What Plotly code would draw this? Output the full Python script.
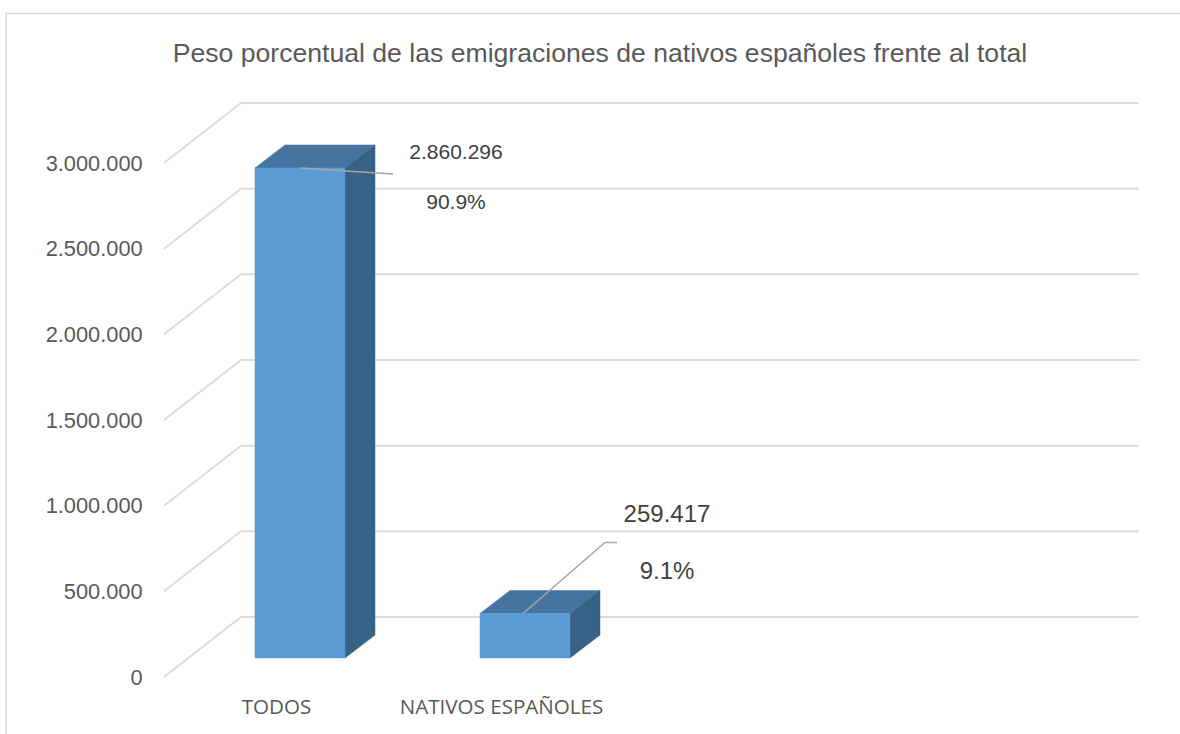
import plotly.graph_objects as go

categories = ["TODOS", "NATIVOS ESPAÑOLES"]
values = [2860296, 259417]
value_labels = ["2.860.296", "259.417"]
pct_labels = ["90.9%", "9.1%"]
axis_ticks = [0, 500000, 1000000, 1500000, 2000000, 2500000, 3000000]
axis_tick_labels = ["0", "500.000", "1.000.000", "1.500.000", "2.000.000", "2.500.000", "3.000.000"]
title = "Peso porcentual de las emigraciones de nativos españoles frente al total"

W, H = 1180, 734
L, R, T, B = 164, 41, 90, 47
PX_PER_CAT = 225.0
PX_PER_STEP = 85.67
PX_PER_VAL = PX_PER_STEP / 500000
ZERO_PX = 677

def ox(px):
    return px / PX_PER_CAT

def ov(px):
    return px / PX_PER_VAL

x_range = [-0.5, -0.5 + (W - L - R) / PX_PER_CAT]
y_range = [-(H - B - ZERO_PX) / PX_PER_STEP * 500000, (ZERO_PX - T) / PX_PER_STEP * 500000]

FRONT, TOP, SIDE = "#5b9bd5", "#44749f", "#376285"
GRID = "#dddddd"
fig = go.Figure()

def poly(xs, ys, color):
    fig.add_trace(go.Scatter(x=xs, y=ys, mode="lines", fill="toself", fillcolor=color,
                             line=dict(color=color, width=0.5), hoverinfo="skip", showlegend=False))

def line(xs, ys, color, width):
    fig.add_trace(go.Scatter(x=xs, y=ys, mode="lines", line=dict(color=color, width=width),
                             hoverinfo="skip", showlegend=False))

def text(x, y, s, size):
    fig.add_trace(go.Scatter(x=[x], y=[y], mode="text", text=[s], textposition="middle center",
                             textfont=dict(family="Liberation Sans", size=size, color="#404040"),
                             hoverinfo="skip", showlegend=False))

# wall + floor gridlines
for v in axis_ticks:
    line([x_range[0], x_range[0] + ox(77), x_range[1]], [v, v + ov(60), v + ov(60)], GRID, 2)

# bars
BAR_DX, BAR_HALF, BAR_BASE = ox(23.5), ox(45), ov(19)
DEPTH_X, DEPTH_V = ox(30), ov(23)
for i, v in enumerate(values):
    x0, x1 = i + BAR_DX - BAR_HALF, i + BAR_DX + BAR_HALF
    y0, y1 = BAR_BASE, BAR_BASE + v
    poly([x0, x1, x1 + DEPTH_X, x0 + DEPTH_X, x0], [y1, y1, y1 + DEPTH_V, y1 + DEPTH_V, y1], TOP)
    poly([x1, x1 + DEPTH_X, x1 + DEPTH_X, x1, x1], [y0, y0 + DEPTH_V, y1 + DEPTH_V, y1, y0], SIDE)
    poly([x0, x1, x1, x0, x0], [y0, y0, y1, y1, y0], FRONT)

# leader lines
LEAD = "#a6a6a6"
top0 = BAR_BASE + values[0]
top1 = BAR_BASE + values[1]
line([0 + BAR_DX, 0 + BAR_DX + ox(85), 0 + BAR_DX + ox(93)], [top0, top0 - ov(6), top0 - ov(6)], LEAD, 1.5)
line([1 + BAR_DX - ox(2), 1 + BAR_DX + ox(80), 1 + BAR_DX + ox(92)], [top1, top1 + ov(71), top1 + ov(71)], LEAD, 1.5)

# data labels
text(0 + BAR_DX + ox(156), top0 + ov(14.5), value_labels[0], 21)
text(0 + BAR_DX + ox(156), top0 - ov(35.5), pct_labels[0], 21)
text(1 + BAR_DX + ox(142), top1 + ov(97.5), value_labels[1], 24)
text(1 + BAR_DX + ox(142), top1 + ov(40.5), pct_labels[1], 24)

fig.update_layout(
    width=W, height=H, autosize=False,
    margin=dict(l=L, r=R, t=T, b=B),
    paper_bgcolor="white", plot_bgcolor="white",
    showlegend=False,
    title=dict(text=title, x=600 / W, xanchor="center", y=1 - 53 / H, yanchor="middle",
               font=dict(family="Liberation Sans", size=26.6, color="#595959")),
    xaxis=dict(range=x_range, tickmode="array", tickvals=[0, 1], ticktext=categories,
               showgrid=False, zeroline=False, showline=False, ticks="outside", ticklen=1,
               tickcolor="rgba(0,0,0,0)",
               tickfont=dict(family="Open Sans", size=20.6, color="#595959")),
    yaxis=dict(range=y_range, tickmode="array", tickvals=axis_ticks, ticktext=axis_tick_labels,
               showgrid=False, zeroline=False, showline=False, ticks="outside", ticklen=16,
               tickcolor="rgba(0,0,0,0)",
               tickfont=dict(family="Liberation Sans", size=21.8, color="#595959")),
    shapes=[
        dict(type="line", xref="paper", yref="paper", x0=(6 - L) / (W - L - R), x1=(W - L) / (W - L - R),
             y0=(H - B - 13.5) / (H - T - B), y1=(H - B - 13.5) / (H - T - B), line=dict(color="#d9d9d9", width=1.5)),
        dict(type="line", xref="paper", yref="paper", x0=(6 - L) / (W - L - R), x1=(6 - L) / (W - L - R),
             y0=(H - B - 13.5) / (H - T - B), y1=-B / (H - T - B), line=dict(color="#d9d9d9", width=1.5)),
    ],
)
fig.write_html("out.html", post_script="document.body.style.margin='0';", config={"displayModeBar": False})
